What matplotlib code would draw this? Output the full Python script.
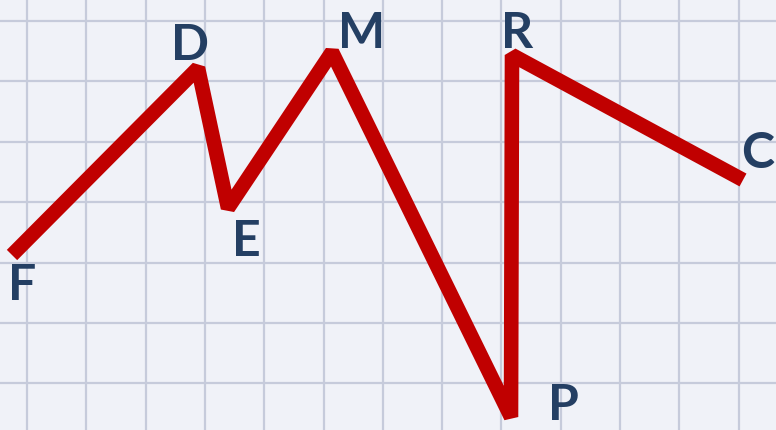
import matplotlib
matplotlib.use("Agg")
import matplotlib.pyplot as plt
import numpy as np

# vertices (image pixel coordinates, y downward)
labels = ["F", "D", "E", "M", "P", "R", "C"]
xs = [12, 198, 228, 332, 511, 512, 743]
ys = [255, 68, 208, 52, 417, 55, 180]

# label positions
lab_x = [22, 190, 246, 362, 563, 517, 758]
lab_y = [285, 45, 242, 33, 405, 33, 153]

grid_x0, grid_dx = 27, 59.3
grid_y0, grid_dy = 21, 60.4

fig = plt.figure(figsize=(7.76, 4.30), dpi=100)
fig.patch.set_facecolor("#f0f2f8")
ax = fig.add_axes([0, 0, 1, 1])
ax.set_facecolor("#f0f2f8")
ax.set_xlim(0, 776)
ax.set_ylim(430, 0)
ax.set_xticks(np.arange(grid_x0, 776, grid_dx))
ax.set_yticks(np.arange(grid_y0, 430, grid_dy))
ax.grid(True, color="#c6cbdb", linewidth=1.6)
ax.tick_params(length=0, labelbottom=False, labelleft=False)
for s in ax.spines.values():
    s.set_visible(False)

ax.plot(xs, ys, color="#c00000", linewidth=10.5, solid_joinstyle="bevel",
        solid_capstyle="butt", zorder=3)
for t, lx, ly in zip(labels, lab_x, lab_y):
    ax.text(lx, ly, t, ha="center", va="center", fontsize=36,
            fontweight="bold", color="#243f63", family=["Lato", "DejaVu Sans"], zorder=4)

fig.savefig("out.png", dpi=100, facecolor=fig.get_facecolor())
